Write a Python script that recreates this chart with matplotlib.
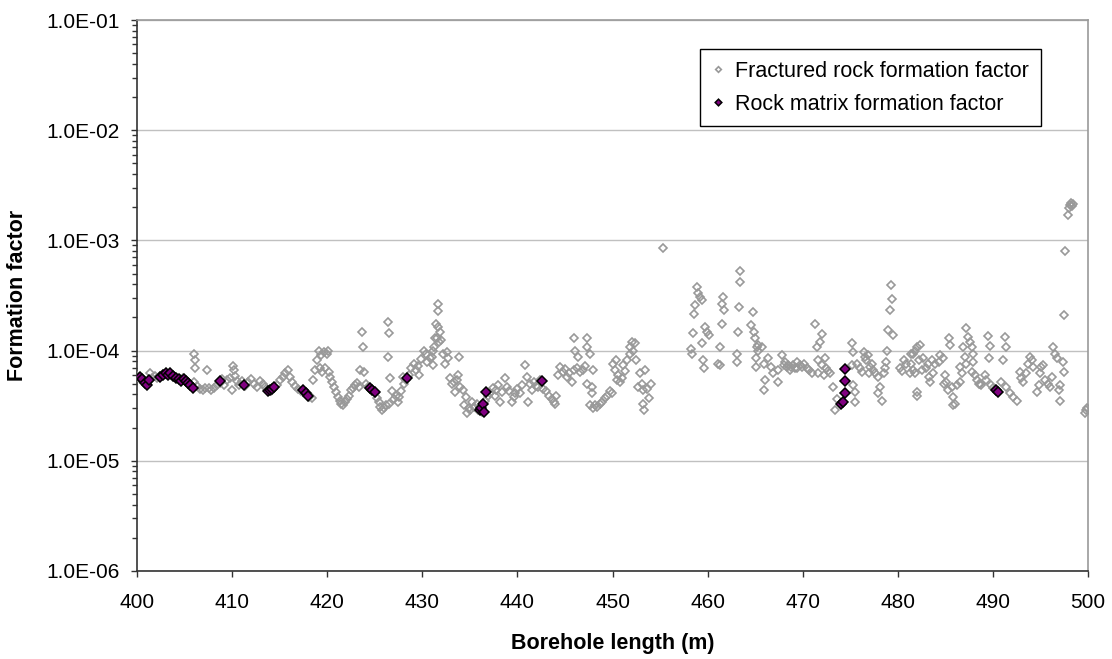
import matplotlib
matplotlib.use("Agg")
import matplotlib.pyplot as plt
from matplotlib.ticker import FixedLocator, FuncFormatter, LogLocator, NullFormatter

plt.rcParams['font.family'] = ['Liberation Sans', 'DejaVu Sans']

# Fractured rock formation factor (borehole length in m, formation factor)
fractured_x = [
    400.0, 400.2, 400.4, 400.6, 400.9, 401.1, 401.4, 401.6, 401.9, 402.1,
    402.4, 402.7, 403.0, 403.3, 403.6, 403.9, 404.2, 404.5, 404.8, 405.1,
    405.4, 405.7, 406.0, 406.05, 406.1, 406.0, 406.3, 406.6, 406.9, 407.1,
    407.4, 407.6, 407.8, 408.1, 408.4, 408.7, 408.9, 409.2, 409.5, 409.8,
    410.0, 410.1, 410.2, 410.3, 410.5, 410.7, 411.0, 411.4, 411.7, 412.0,
    412.3, 412.6, 412.9, 413.2, 413.5, 413.8, 414.1, 414.4, 414.7, 415.0,
    415.3, 415.6, 415.9, 416.1, 416.3, 416.6, 416.9, 417.2, 417.5, 417.8,
    418.1, 418.4, 418.5, 418.7, 418.9, 419.1, 419.2, 419.4, 419.5, 419.7,
    419.8, 420.0, 420.1, 420.2, 420.3, 420.5, 420.7, 420.9, 421.1, 421.3,
    421.5, 421.7, 421.9, 422.1, 422.3, 422.5, 422.7, 422.9, 423.1, 423.3,
    423.5, 423.7, 423.75, 423.9, 424.1, 424.3, 424.5, 424.8, 425.0, 425.2,
    425.4, 425.6, 425.8, 426.0, 426.2, 426.35, 426.4, 426.45, 426.5, 426.6,
    426.8, 427.0, 427.2, 427.4, 427.6, 427.8, 428.0, 428.1, 428.3, 428.6,
    428.8, 429.1, 429.3, 429.5, 429.7, 429.9, 430.2, 430.4, 430.5, 430.8,
    431.0, 431.1, 431.15, 431.2, 431.35, 431.45, 431.5, 431.6, 431.65, 431.7,
    431.75, 431.9, 432.0, 432.2, 432.4, 432.55, 432.7, 432.9, 433.1, 433.3,
    433.4, 433.6, 433.8, 433.9, 434.0, 434.3, 434.35, 434.6, 434.7, 434.9,
    435.0, 435.2, 435.4, 435.7, 435.9, 436.1, 436.3, 436.6, 436.9, 437.1,
    437.4, 437.6, 437.8, 438.0, 438.2, 438.4, 438.7, 438.9, 439.1, 439.4,
    439.6, 439.75, 440.0, 440.3, 440.5, 440.8, 441.0, 441.15, 441.3, 441.5,
    441.7, 442.0, 442.2, 442.4, 442.7, 443.0, 443.3, 443.6, 443.8, 444.0,
    444.1, 444.3, 444.5, 444.8, 445.0, 445.2, 445.4, 445.7, 445.9, 446.0,
    446.1, 446.3, 446.4, 446.6, 446.9, 447.1, 447.3, 447.35, 447.3, 447.6,
    447.6, 447.8, 447.8, 448.0, 448.0, 448.2, 448.4, 448.7, 448.9, 449.2,
    449.4, 449.7, 449.9, 450.1, 450.3, 450.4, 450.45, 450.6, 450.8, 451.0,
    451.1, 451.3, 451.5, 451.8, 451.85, 452.0, 452.2, 452.4, 452.5, 452.7,
    452.9, 453.1, 453.2, 453.25, 453.3, 453.4, 453.6, 453.8, 454.1, 455.3,
    458.3, 458.35, 458.5, 458.55, 458.7, 458.85, 459.0, 459.2, 459.4, 459.4,
    459.55, 459.6, 459.7, 459.9, 460.1, 461.1, 461.3, 461.35, 461.5, 461.55,
    461.65, 461.7, 463.05, 463.1, 463.2, 463.25, 463.4, 463.45, 464.6, 464.8,
    464.85, 465.0, 465.05, 465.1, 465.2, 465.25, 465.3, 465.7, 465.9, 465.95,
    466.0, 466.4, 466.7, 466.9, 467.4, 467.45, 467.8, 468.0, 468.1, 468.3,
    468.5, 468.7, 468.8, 469.0, 469.2, 469.4, 469.45, 469.7, 469.9, 470.1,
    470.4, 470.7, 471.0, 471.3, 471.5, 471.6, 471.65, 471.8, 472.0, 472.05,
    472.2, 472.35, 472.5, 472.7, 472.9, 473.2, 473.4, 473.6, 475.15, 475.25,
    475.2, 475.3, 475.5, 475.55, 475.7, 476.0, 476.2, 476.4, 476.6, 476.7,
    476.9, 477.0, 477.1, 477.3, 477.4, 477.6, 477.95, 477.9, 478.1, 478.3,
    478.5, 478.7, 478.8, 478.85, 479.0, 479.2, 479.25, 479.4, 479.45, 480.2,
    480.4, 480.6, 480.9, 481.3, 481.35, 481.4, 481.6, 481.65, 481.8, 481.85,
    482.0, 482.0, 482.05, 482.2, 482.3, 482.5, 482.7, 483.0, 483.2, 483.25,
    483.4, 483.6, 483.7, 483.9, 484.3, 484.4, 484.8, 484.85, 485.0, 485.1,
    485.3, 485.4, 485.5, 485.7, 485.8, 485.85, 486.0, 486.2, 486.5, 486.55,
    486.7, 486.9, 487.1, 487.17, 487.2, 487.4, 487.6, 487.8, 487.85, 487.9,
    487.95, 488.1, 488.3, 488.5, 488.6, 488.8, 489.2, 489.3, 489.5, 489.55,
    489.7, 489.75, 490.0, 490.9, 491.1, 491.3, 491.35, 491.4, 491.8, 492.1,
    492.5, 492.8, 493.0, 493.2, 493.5, 493.7, 493.9, 494.1, 494.2, 494.6,
    494.8, 494.95, 495.1, 495.3, 495.5, 495.8, 496.0, 496.2, 496.35, 496.5,
    496.7, 496.9, 497.05, 497.1, 497.4, 497.45, 497.5, 497.6, 497.9, 498.0,
    498.1, 498.2, 498.3, 498.4, 499.7, 499.8, 499.9,
]
fractured_f = [
    5.9e-5, 5.7e-5, 5.5e-5, 5.3e-5, 5.1e-5, 5.0e-5, 6.2e-5, 5.6e-5, 5.9e-5, 5.6e-5,
    5.9e-5, 6.1e-5, 6.2e-5, 6.1e-5, 6.0e-5, 5.8e-5, 5.6e-5, 5.5e-5, 5.6e-5, 5.3e-5,
    5.1e-5, 4.8e-5, 9.4e-5, 8.2e-5, 7.0e-5, 5.2e-5, 4.8e-5, 4.5e-5, 4.4e-5, 4.6e-5,
    6.7e-5, 4.6e-5, 4.4e-5, 4.6e-5, 4.9e-5, 5.1e-5, 5.5e-5, 4.9e-5, 5.4e-5, 5.6e-5,
    4.4e-5, 7.3e-5, 6.6e-5, 5.9e-5, 5.3e-5, 4.9e-5, 5.3e-5, 4.8e-5, 5.2e-5, 5.5e-5,
    5.0e-5, 4.7e-5, 5.3e-5, 5.0e-5, 4.7e-5, 4.4e-5, 4.3e-5, 4.6e-5, 4.9e-5, 5.4e-5,
    5.8e-5, 6.2e-5, 6.6e-5, 5.8e-5, 5.2e-5, 4.8e-5, 4.5e-5, 4.3e-5, 4.2e-5, 4.0e-5,
    3.8e-5, 3.7e-5, 5.4e-5, 6.6e-5, 8.2e-5, 1.0e-4, 7.0e-5, 9.1e-5, 6.4e-5, 9.7e-5,
    6.9e-5, 9.4e-5, 9.9e-5, 6.4e-5, 5.8e-5, 5.2e-5, 4.7e-5, 4.2e-5, 3.8e-5, 3.5e-5,
    3.3e-5, 3.2e-5, 3.4e-5, 3.6e-5, 3.9e-5, 4.4e-5, 4.6e-5, 4.9e-5, 5.1e-5, 4.7e-5,
    6.6e-5, 1.48e-4, 1.08e-4, 6.4e-5, 5.0e-5, 4.7e-5, 4.5e-5, 4.3e-5, 4.1e-5, 3.7e-5,
    3.4e-5, 3.1e-5, 2.9e-5, 3.0e-5, 3.2e-5, 8.8e-5, 1.82e-4, 1.45e-4, 3.3e-5, 5.6e-5,
    4.3e-5, 3.6e-5, 3.9e-5, 3.4e-5, 3.8e-5, 4.3e-5, 5.8e-5, 5.0e-5, 5.4e-5, 6.0e-5,
    6.9e-5, 7.6e-5, 6.6e-5, 7.2e-5, 6.0e-5, 8.4e-5, 1.0e-4, 9.4e-5, 7.8e-5, 8.6e-5,
    8.8e-5, 1.0e-4, 7.4e-5, 1.08e-4, 1.3e-4, 1.76e-4, 1.29e-4, 1.64e-4, 2.67e-4, 2.29e-4,
    1.2e-4, 1.48e-4, 1.24e-4, 9.4e-5, 7.6e-5, 9.7e-5, 8.5e-5, 5.6e-5, 5.0e-5, 5.2e-5,
    4.2e-5, 5.4e-5, 6.0e-5, 8.8e-5, 4.7e-5, 4.4e-5, 3.2e-5, 3.8e-5, 2.7e-5, 3.0e-5,
    2.9e-5, 3.4e-5, 3.1e-5, 3.3e-5, 2.9e-5, 3.0e-5, 2.8e-5, 3.5e-5, 3.9e-5, 4.1e-5,
    4.6e-5, 3.9e-5, 4.35e-5, 4.9e-5, 3.4e-5, 4.2e-5, 5.6e-5, 4.7e-5, 4.3e-5, 3.4e-5,
    3.8e-5, 4.1e-5, 4.5e-5, 4.1e-5, 4.9e-5, 7.4e-5, 5.8e-5, 3.4e-5, 5.0e-5, 4.35e-5,
    5.2e-5, 4.8e-5, 4.7e-5, 5.4e-5, 4.5e-5, 4.3e-5, 3.9e-5, 3.6e-5, 3.4e-5, 3.3e-5,
    3.9e-5, 6.0e-5, 7.1e-5, 6.4e-5, 6.8e-5, 5.8e-5, 6.2e-5, 5.2e-5, 1.29e-4, 6.6e-5,
    1.0e-4, 7.0e-5, 8.8e-5, 6.4e-5, 6.6e-5, 7.2e-5, 1.29e-4, 1.08e-4, 5.0e-5, 9.4e-5,
    3.2e-5, 4.1e-5, 4.7e-5, 6.6e-5, 3.0e-5, 3.2e-5, 3.1e-5, 3.3e-5, 3.4e-5, 3.7e-5,
    3.9e-5, 4.3e-5, 4.1e-5, 7.6e-5, 6.6e-5, 8.2e-5, 5.4e-5, 6.0e-5, 5.2e-5, 5.6e-5,
    7.4e-5, 6.5e-5, 8.2e-5, 9.4e-5, 1.08e-4, 1.2e-4, 1.0e-4, 1.16e-4, 8.2e-5, 4.7e-5,
    6.2e-5, 5.0e-5, 4.35e-5, 3.3e-5, 2.9e-5, 6.6e-5, 4.5e-5, 3.7e-5, 5.0e-5, 8.5e-4,
    1.04e-4, 9.4e-5, 1.43e-4, 2.17e-4, 2.58e-4, 3.79e-4, 3.3e-4, 3.07e-4, 2.9e-4, 1.16e-4,
    8.2e-5, 6.9e-5, 1.64e-4, 1.48e-4, 1.38e-4, 7.6e-5, 7.4e-5, 1.08e-4, 1.76e-4, 2.67e-4,
    3.07e-4, 2.33e-4, 9.4e-5, 7.9e-5, 1.48e-4, 2.5e-4, 4.2e-4, 5.3e-4, 1.7e-4, 2.24e-4,
    1.48e-4, 1.29e-4, 8.5e-5, 7.1e-5, 1.08e-4, 1.0e-4, 1.12e-4, 1.08e-4, 7.6e-5, 4.4e-5,
    5.4e-5, 8.5e-5, 7.1e-5, 6.2e-5, 5.2e-5, 6.6e-5, 9.1e-5, 7.4e-5, 7.9e-5, 7.1e-5,
    7.4e-5, 6.6e-5, 7.1e-5, 7.4e-5, 7.0e-5, 7.9e-5, 6.9e-5, 7.4e-5, 7.1e-5, 7.6e-5,
    7.0e-5, 6.6e-5, 6.2e-5, 1.73e-4, 1.08e-4, 8.2e-5, 6.2e-5, 1.2e-4, 1.42e-4, 7.4e-5,
    6.0e-5, 8.5e-5, 6.9e-5, 6.5e-5, 6.2e-5, 4.7e-5, 2.9e-5, 3.65e-5, 1.17e-4, 9.7e-5,
    7.4e-5, 4.86e-5, 4.2e-5, 3.4e-5, 7.6e-5, 6.9e-5, 6.4e-5, 9.7e-5, 8.8e-5, 8.2e-5,
    9.1e-5, 6.3e-5, 7.1e-5, 7.6e-5, 6.6e-5, 6.2e-5, 5.8e-5, 4.1e-5, 4.7e-5, 3.5e-5,
    6.2e-5, 6.9e-5, 7.9e-5, 1.0e-4, 1.53e-4, 2.32e-4, 3.92e-4, 2.97e-4, 1.38e-4, 7.0e-5,
    6.5e-5, 8.2e-5, 7.6e-5, 6.2e-5, 9.4e-5, 7.6e-5, 9.4e-5, 6.6e-5, 1.0e-4, 6.2e-5,
    1.08e-4, 4.2e-5, 3.9e-5, 8.2e-5, 1.12e-4, 6.6e-5, 8.5e-5, 6.9e-5, 7.6e-5, 5.8e-5,
    5.2e-5, 8.2e-5, 6.2e-5, 7.6e-5, 7.9e-5, 9.1e-5, 8.5e-5, 5.0e-5, 6.0e-5, 5.2e-5,
    4.35e-5, 1.3e-4, 1.12e-4, 4.7e-5, 3.8e-5, 3.2e-5, 3.3e-5, 4.85e-5, 5.2e-5, 7.1e-5,
    6.2e-5, 1.08e-4, 8.8e-5, 1.62e-4, 7.6e-5, 1.33e-4, 1.2e-4, 1.08e-4, 6.4e-5, 9.4e-5,
    7.9e-5, 6.0e-5, 5.4e-5, 5.0e-5, 5.0e-5, 4.85e-5, 6.0e-5, 5.4e-5, 1.36e-4, 8.5e-5,
    1.1e-4, 4.85e-5, 4.6e-5, 5.2e-5, 8.2e-5, 1.33e-4, 1.08e-4, 4.7e-5, 4.1e-5, 3.8e-5,
    3.5e-5, 6.4e-5, 5.6e-5, 5.2e-5, 6.2e-5, 7.6e-5, 8.8e-5, 8.2e-5, 7.1e-5, 4.2e-5,
    4.85e-5, 6.2e-5, 7.1e-5, 7.4e-5, 5.4e-5, 5.0e-5, 4.7e-5, 5.8e-5, 1.08e-4, 9.4e-5,
    8.5e-5, 4.35e-5, 4.85e-5, 3.5e-5, 7.9e-5, 6.4e-5, 2.09e-4, 7.96e-4, 1.7e-3, 1.95e-3,
    2.1e-3, 2.2e-3, 2.05e-3, 2.15e-3, 2.7e-5, 2.9e-5, 3.0e-5,
]

# Rock matrix formation factor
matrix_x = [
    400.3, 400.5, 400.8, 401.1, 401.3, 402.4, 402.7, 403.0, 403.3, 403.5,
    403.8, 404.1, 404.4, 404.6, 404.9, 405.2, 405.4, 405.6, 405.9, 408.7,
    411.2, 413.8, 414.0, 414.2, 414.4, 417.5, 417.8, 418.0, 424.5, 424.7,
    425.0, 428.4, 436.1, 436.2, 436.4, 436.5, 436.7, 442.55, 474.0, 474.2,
    474.4, 474.45, 474.5, 490.3, 490.57,
]
matrix_f = [
    5.8e-5, 5.5e-5, 5.1e-5, 4.9e-5, 5.4e-5, 5.8e-5, 6.0e-5, 6.3e-5, 6.0e-5, 6.3e-5,
    5.9e-5, 5.7e-5, 5.5e-5, 5.3e-5, 5.5e-5, 5.3e-5, 5.1e-5, 4.9e-5, 4.6e-5, 5.3e-5,
    4.9e-5, 4.3e-5, 4.4e-5, 4.5e-5, 4.7e-5, 4.4e-5, 4.1e-5, 3.9e-5, 4.6e-5, 4.4e-5,
    4.2e-5, 5.6e-5, 2.9e-5, 3.0e-5, 3.3e-5, 2.8e-5, 4.2e-5, 5.3e-5, 3.25e-5, 3.4e-5,
    4.1e-5, 5.3e-5, 6.8e-5, 4.4e-5, 4.2e-5,
]

x_ticks = [400, 410, 420, 430, 440, 450, 460, 470, 480, 490, 500]
y_ticks = [1e-6, 1e-5, 1e-4, 1e-3, 1e-2, 1e-1]

W, H = 1112, 659
fig = plt.figure(figsize=(W / 100, H / 100), dpi=100)
ax = fig.add_axes([137 / W, (H - 571) / H, (1088 - 137) / W, (571 - 20) / H])

ax.set_yscale('log')
ax.set_xlim(400, 500)
ax.set_ylim(1e-6, 1e-1)

ax.yaxis.set_major_locator(FixedLocator(y_ticks))
ax.yaxis.set_minor_locator(LogLocator(base=10, subs=range(2, 10), numticks=20))
ax.yaxis.set_minor_formatter(NullFormatter())
ax.yaxis.set_major_formatter(FuncFormatter(lambda v, p: f"{v:.1E}"))
ax.xaxis.set_major_locator(FixedLocator(x_ticks))

ax.grid(True, which='major', axis='y', color='#c0c0c0', linewidth=1.0)
ax.set_axisbelow(True)

ax.plot(fractured_x, fractured_f, linestyle='none', marker='D', markersize=4.4,
        markerfacecolor='none', markeredgecolor='#999999', markeredgewidth=1.2,
        label='Fractured rock formation factor', zorder=3)
ax.plot(matrix_x, matrix_f, linestyle='none', marker='D', markersize=5.2,
        markerfacecolor='#800080', markeredgecolor='black', markeredgewidth=1.1,
        label='Rock matrix formation factor', zorder=4)

for side in ('left', 'bottom'):
    ax.spines[side].set_color('#333333')
    ax.spines[side].set_linewidth(1.2)
for side in ('top', 'right'):
    ax.spines[side].set_color('#9a9a9a')
    ax.spines[side].set_linewidth(1.2)

ax.tick_params(axis='x', which='major', direction='out', length=4, width=1.0,
               color='#333333', labelsize=15, pad=12)
ax.tick_params(axis='y', which='major', direction='out', length=4.5, width=1.0,
               color='#333333', labelsize=15, pad=8)
ax.tick_params(axis='y', which='minor', direction='out', length=3.5, width=1.0,
               color='#333333')

ax.set_xlabel('Borehole length (m)', fontsize=15.5, fontweight='bold')
ax.set_ylabel('Formation factor', fontsize=15.5, fontweight='bold')
ax.xaxis.set_label_coords(0.5, -0.112)
ax.yaxis.set_label_coords(-0.115, 0.5)

leg = ax.legend(loc='upper right', bbox_to_anchor=(0.962, 0.967), fontsize=15.5,
                frameon=True, fancybox=False, edgecolor='black', framealpha=1,
                markerscale=0.65, handlelength=0.6, handletextpad=0.5,
                labelspacing=0.55, borderpad=0.55)
leg.get_frame().set_linewidth(1.0)

fig.savefig('out.png', dpi=100)
